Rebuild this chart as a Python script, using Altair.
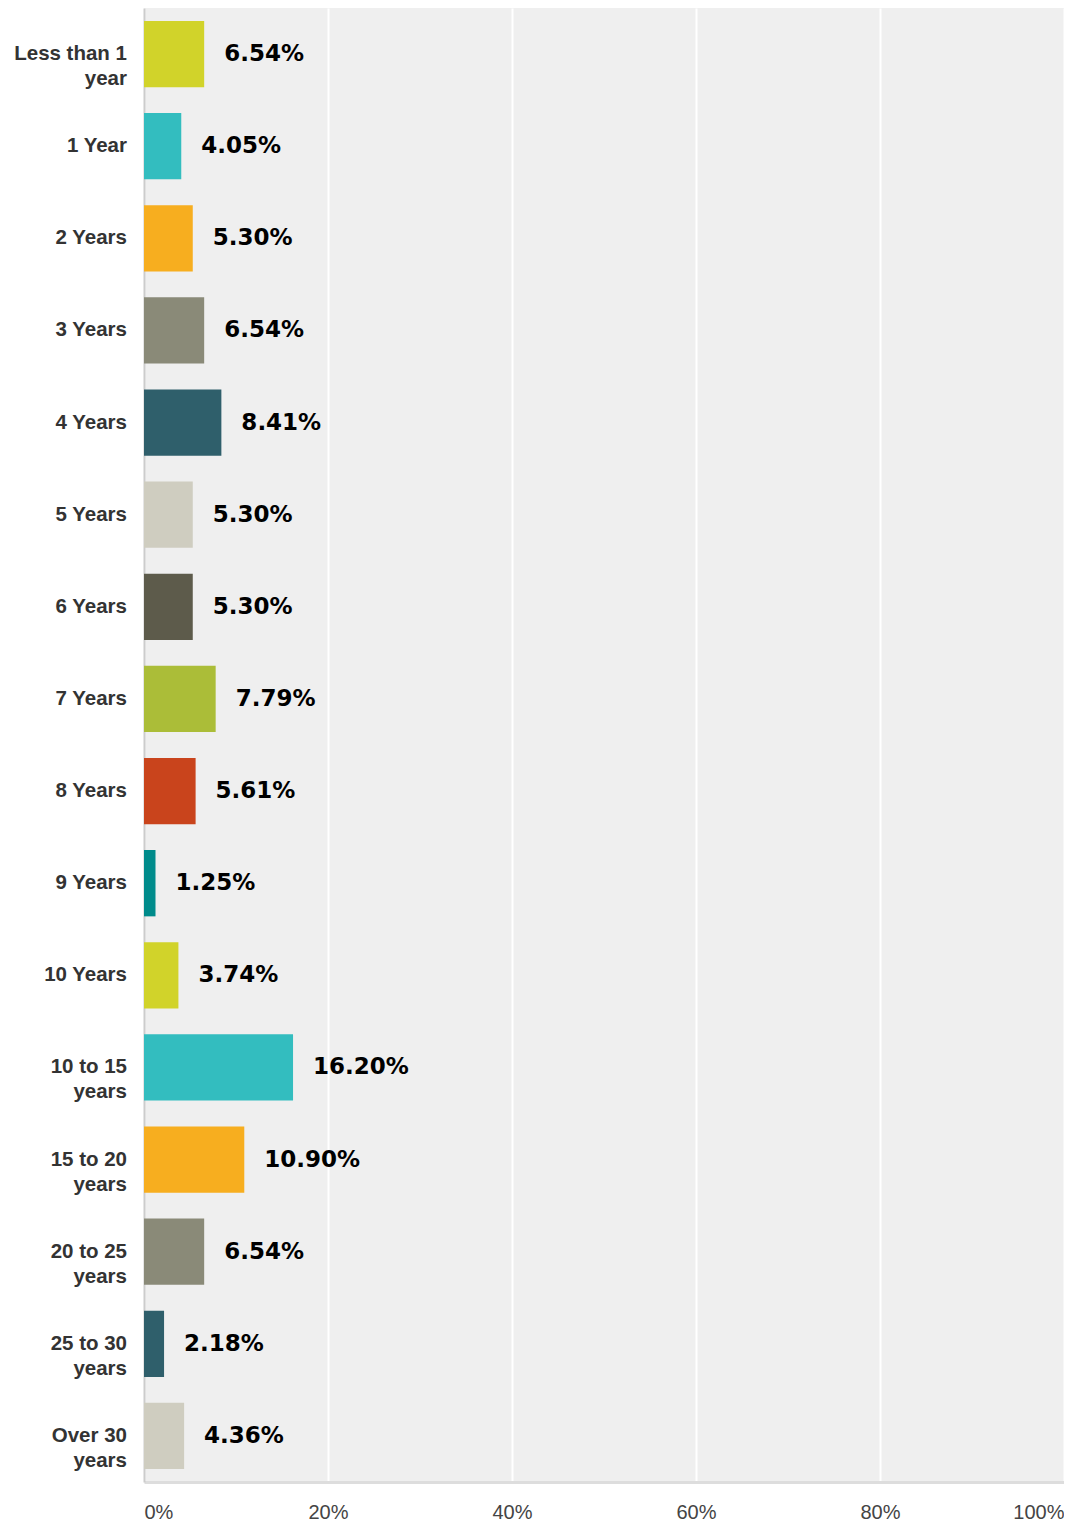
import altair as alt
import pandas as pd

categories = [
    "Less than 1\nyear", "1 Year", "2 Years", "3 Years", "4 Years", "5 Years",
    "6 Years", "7 Years", "8 Years", "9 Years", "10 Years", "10 to 15\nyears",
    "15 to 20\nyears", "20 to 25\nyears", "25 to 30\nyears", "Over 30\nyears",
]
values = [6.54, 4.05, 5.30, 6.54, 8.41, 5.30, 5.30, 7.79, 5.61, 1.25, 3.74,
          16.20, 10.90, 6.54, 2.18, 4.36]
colors = ["#d1d32a", "#33bdbf", "#f7ae1f", "#8a8a78", "#2f5f6b", "#cfcdc0",
          "#5d5b4b", "#abbd38", "#c9441c", "#008b8b", "#d1d32a", "#33bdbf",
          "#f7ae1f", "#8a8a78", "#2f5f6b", "#cfcdc0"]
x_ticks = [0, 20, 40, 60, 80, 100]

df = pd.DataFrame({"cat": categories, "value": values, "color": colors})

y_enc = alt.Y(
    "cat:N", sort=categories, title=None,
    scale=alt.Scale(paddingInner=0.28, paddingOuter=0.14),
    axis=alt.Axis(labels=False, ticks=False, domain=True, domainColor="#cccccc",
                  domainWidth=2, grid=False),
)

base = alt.Chart(df)

bars = base.mark_bar().encode(
    x=alt.X("value:Q", title=None,
            scale=alt.Scale(domain=[0, 100], nice=False),
            axis=alt.Axis(values=x_ticks, labelExpr="datum.value + '%'",
                          labelFlush=True, labelFont="Liberation Sans",
                          labelFontSize=20, labelColor="#444444",
                          labelPadding=20, ticks=False, domainColor="#dddddd",
                          domainWidth=3, grid=True, gridColor="#ffffff",
                          gridWidth=2)),
    y=y_enc,
    color=alt.Color("color:N", scale=None, legend=None),
)

vals = base.transform_calculate(
    label="format(datum.value, '.2f') + '%'"
).mark_text(align="left", baseline="middle", dx=20, font="DejaVu Sans",
            fontWeight="bold", fontSize=23, color="#000000").encode(
    x="value:Q",
    y=alt.Y("cat:N", sort=categories),
    text="label:N",
)

ylabels = base.mark_text(align="right", baseline="middle", lineBreak="\n",
                         lineHeight=25, font="Liberation Sans",
                         fontWeight="bold", fontSize=20.5,
                         color="#333333").encode(
    x=alt.value(-17),
    y=alt.Y("cat:N", sort=categories),
    text="cat:N",
)

chart = alt.layer(bars, vals, ylabels).properties(
    width=920, height=1474,
    background="#ffffff",
    autosize=alt.AutoSizeParams(type="none"),
    padding={"left": 136, "top": 0, "right": 0, "bottom": 44},
).configure_view(fill="#efefef", stroke=None)

chart.save("out.html", embed_options={"renderer": "svg", "actions": False})
